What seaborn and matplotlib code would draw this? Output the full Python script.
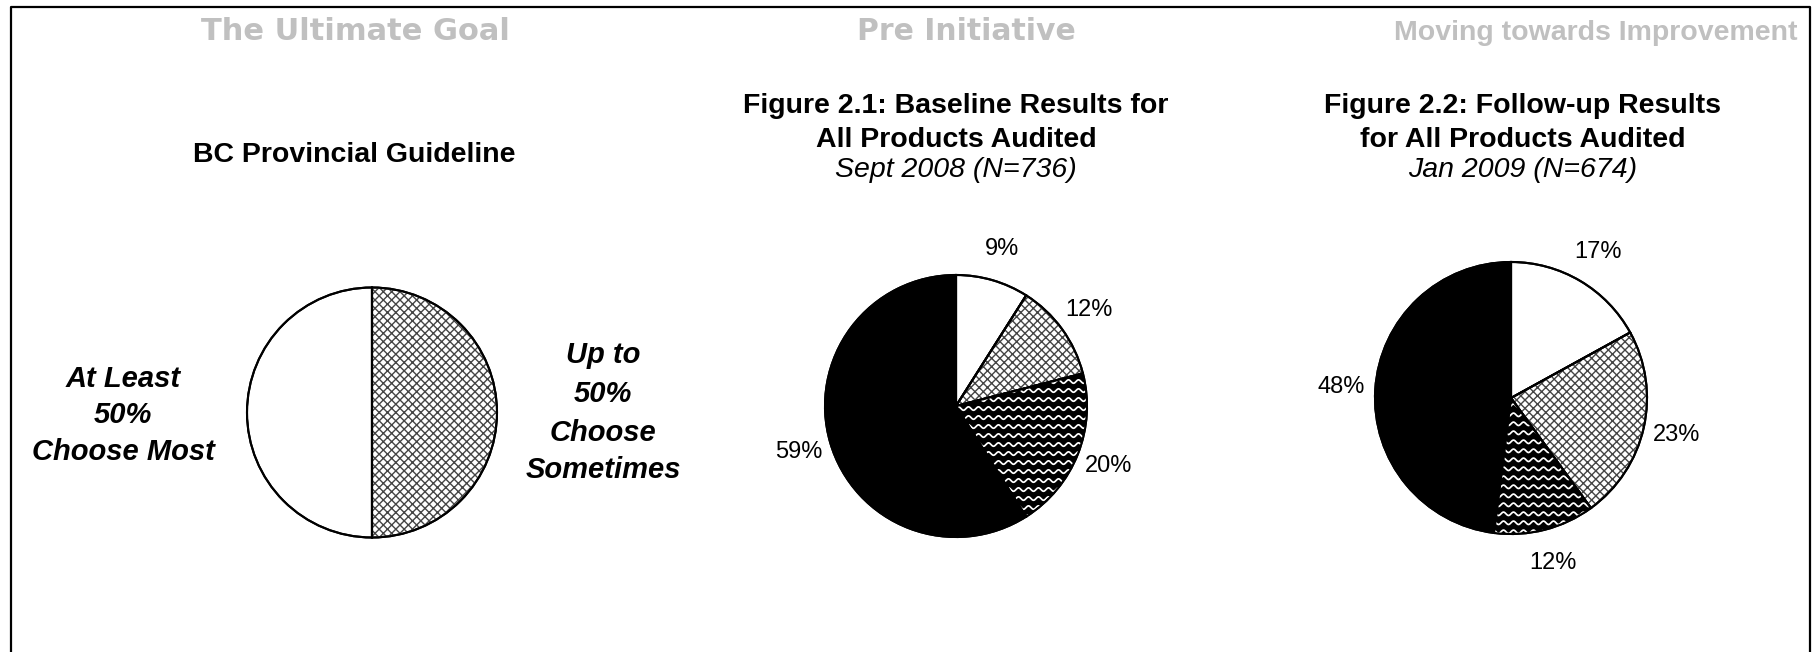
import numpy as np
import matplotlib
matplotlib.use("Agg")
import matplotlib.pyplot as plt
from matplotlib.patches import Wedge
from matplotlib.lines import Line2D
import seaborn as sns

# ---- data -------------------------------------------------------------
guideline_categories = ["Choose Most", "Choose Sometimes"]
guideline_shares = [50, 50]

audit_categories = ["Choose Most", "Choose Sometimes", "Choose Least", "Not Recommended"]
baseline_shares = [9, 12, 20, 59]     # Sept 2008, N=736
followup_shares = [17, 23, 12, 48]    # Jan 2009, N=674

section_titles = ["The Ultimate Goal", "Pre Initiative", "Moving towards Improvement"]
guideline_title = "BC Provincial Guideline"
baseline_title = ["Figure 2.1: Baseline Results for", "All Products Audited", "Sept 2008 (N=736)"]
followup_title = ["Figure 2.2: Follow-up Results", "for All Products Audited", "Jan 2009 (N=674)"]

# ---- style ------------------------------------------------------------
sns.set_theme(style="white")
plt.rcParams["font.family"] = ["Liberation Sans", "DejaVu Sans"]
plt.rcParams["text.color"] = "black"
plt.rcParams["hatch.linewidth"] = 1.0

W, H = 1815, 652
fig = plt.figure(figsize=(W / 100, H / 100), dpi=100)
fig.patch.set_facecolor("white")

# fill colour and pattern per category
fills = {
    "Choose Most": ("white", None),
    "Choose Sometimes": ("white", "xxxx"),
    "Choose Least": ("black", "wave"),
    "Not Recommended": ("black", None),
}

L = 1.5  # half-extent of each pie axes, in pie radii


def fx(px):
    return px / W


def fy(py):
    return 1 - py / H


def pie_axes(cx, cy, r):
    return fig.add_axes([fx(cx - L * r), fy(cy + L * r), 2 * L * r / W, 2 * L * r / H])


def add_waves(ax, wedge, r_px):
    spacing = 9.0 / r_px
    wavelength = 10.0 / r_px
    amp = 1.7 / r_px
    x = np.linspace(-1.05, 1.05, 1500)
    for y0 in np.arange(-1.05, 1.06, spacing):
        line, = ax.plot(x, y0 + amp * np.sin(2 * np.pi * x / wavelength),
                        color="white", lw=1.25, zorder=1.2)
        line.set_clip_path(wedge)


def draw_pie(ax, values, cats, counterclock, r_px, show_pct=True):
    kw = {}
    if show_pct:
        kw = dict(autopct=lambda p: f"{p:.0f}%", pctdistance=1.25,
                  textprops=dict(fontsize=17, color="black"))
    out = ax.pie(values, colors=[fills[c][0] for c in cats], startangle=90,
                 counterclock=counterclock, radius=1,
                 wedgeprops=dict(edgecolor="black", linewidth=1.5), **kw)
    wedges = out[0]
    for w, c in zip(wedges, cats):
        pattern = fills[c][1]
        if pattern == "wave":
            add_waves(ax, w, r_px)
        elif pattern:
            ax.add_patch(Wedge(w.center, w.r, w.theta1, w.theta2, facecolor="none",
                               edgecolor="#454545", lw=0, hatch=pattern, zorder=1.2))
        ax.add_patch(Wedge(w.center, w.r, w.theta1, w.theta2, facecolor="none",
                           edgecolor="black", lw=1.5, zorder=1.5))
    ax.set_xlim(-L, L)
    ax.set_ylim(-L, L)
    ax.set_aspect("equal")
    ax.axis("off")
    return wedges


# ---- pies -------------------------------------------------------------
r1 = 125
ax1 = pie_axes(372, 412.5, r1)
draw_pie(ax1, guideline_shares, guideline_categories, True, r1, show_pct=False)

r2 = 131
ax2 = pie_axes(956, 406, r2)
draw_pie(ax2, baseline_shares, audit_categories, False, r2)

r3 = 136
ax3 = pie_axes(1511, 398, r3)
draw_pie(ax3, followup_shares, audit_categories, False, r3)

# guideline pie side labels
bi = dict(fontsize=21, fontweight="bold", fontstyle="italic", ha="center", va="baseline")
left_lines = ["At Least", f"{guideline_shares[0]}%", guideline_categories[0]]
for txt, yb in zip(left_lines, [387, 423, 460]):
    fig.text(fx(123), fy(yb), txt, **bi)
right_lines = ["Up to", f"{guideline_shares[1]}%", "Choose", "Sometimes"]
for txt, yb in zip(right_lines, [363, 402, 441, 478]):
    fig.text(fx(603), fy(yb), txt, **bi)

# ---- headings ---------------------------------------------------------
gray = "#c0c0c0"
fig.text(fx(355), fy(40), section_titles[0], fontsize=22, fontweight="bold",
         color=gray, family=["DejaVu Sans"], ha="center", va="baseline")
fig.text(fx(966), fy(40), section_titles[1], fontsize=21.5, fontweight="bold",
         color=gray, family=["DejaVu Sans"], ha="center", va="baseline")
fig.text(fx(1798), fy(40), section_titles[2], fontsize=20.5, fontweight="bold",
         color=gray, ha="right", va="baseline")

fig.text(fx(354), fy(162), guideline_title, fontsize=20.5, fontweight="bold",
         ha="center", va="baseline")

for lines, cx in [(baseline_title, 956), (followup_title, 1523)]:
    fig.text(fx(cx), fy(113), lines[0], fontsize=20.5, fontweight="bold", ha="center", va="baseline")
    fig.text(fx(cx), fy(147), lines[1], fontsize=20.5, fontweight="bold", ha="center", va="baseline")
    fig.text(fx(cx), fy(177), lines[2], fontsize=20.5, fontstyle="italic", ha="center", va="baseline")

# ---- frame (left, top, right) -----------------------------------------
fig.add_artist(Line2D([fx(11), fx(11), fx(1810), fx(1810)], [0, fy(7), fy(7), 0],
                      transform=fig.transFigure, color="black", lw=1.6))

fig.savefig("out.png", dpi=100, facecolor="white")
